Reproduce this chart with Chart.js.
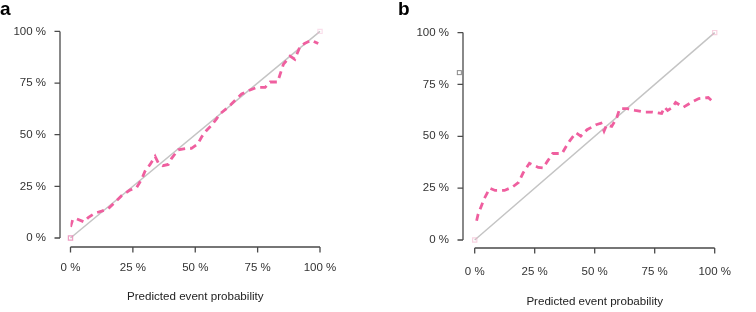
<!DOCTYPE html>
<html><head><meta charset="utf-8">
<script src="https://cdn.jsdelivr.net/npm/chart.js@4"></script>
<style>
html,body{margin:0;padding:0;background:#fff;}
#wrap{position:relative;width:756px;height:312px;overflow:hidden;background:#fff;}
.panel{position:absolute;top:0;width:378px;height:312px;}
.lbl{position:absolute;font-family:"Liberation Sans",Arial,sans-serif;font-weight:bold;font-size:19px;line-height:19px;color:#000;}
</style></head><body>
<div id="wrap">
<div class="panel" style="left:0"><canvas id="ca" width="378" height="312"></canvas></div>
<div class="panel" style="left:378px"><canvas id="cb" width="378" height="312"></canvas></div>
<div class="lbl" style="left:0;top:-1px">a</div>
<div class="lbl" style="left:398px;top:-1px">b</div>
</div>
<script>
// ---- data ----
const tickValues = [0, 25, 50, 75, 100];
const tickLabels = ['0 %', '25 %', '50 %', '75 %', '100 %'];
const axisTitle = 'Predicted event probability';
const diagonalX = [0, 100];
const diagonalY = [0, 100];

const aPredicted = [0, 0.9, 2.2, 5.4, 7.1, 9.8, 12.5, 15, 17.8, 20.5, 23.8, 26.5, 28.5, 29.9, 31.9, 33.9, 35.2, 37, 39.2, 40.6, 43.2, 47.2, 48.5, 51, 52.6, 54.6, 56.6, 58.6, 59.9, 63.2, 65.2, 68.6, 71.3, 74.6, 78, 80, 83, 85.3, 88, 89.9, 92, 94, 96.6, 99.3];
const aObserved  = [5.4, 8.9, 9.4, 7.8, 9.9, 12, 13, 14, 17.3, 20.5, 23.2, 24.4, 28.4, 32.4, 35.6, 39.5, 36.3, 35, 35.6, 38.7, 42.7, 43.5, 43.4, 45.5, 49, 52.2, 54.6, 57.8, 60.1, 63.3, 65.7, 69.7, 71.3, 72.9, 72.9, 75.5, 75.5, 84, 88, 86.5, 92.7, 94.3, 95.7, 94.1];

const bPredicted = [0.8, 1.4, 2.7, 4, 6.3, 8.5, 12.4, 15.7, 18.3, 20.2, 22.8, 24.1, 26.5, 28.6, 30.2, 32.5, 36.4, 38.3, 39.6, 42.2, 44.2, 46.8, 49.4, 50.6, 52.6, 53.9, 55, 57.1, 59.1, 60.4, 63.6, 66.8, 70.7, 74, 77.9, 79.1, 80.4, 82.4, 83.7, 86.9, 90.2, 93.4, 97.3, 99.2];
const bObserved  = [9.3, 12.3, 16.2, 20, 25, 23.9, 23.9, 25.5, 27.8, 32.4, 37, 36.3, 35, 34.7, 37.8, 41.7, 41.7, 45.5, 47.8, 51.7, 50.1, 53.2, 54.8, 55.6, 56.3, 52.5, 55.5, 54.8, 58.6, 63.3, 63.3, 62.5, 61.7, 61.7, 61, 64, 62.5, 64, 66.3, 64, 66.3, 68.2, 68.7, 66.7];

const bStrayX = [-6.4];
const bStrayY = [80.7];

// ---- helpers ----
const toPts = (xs, ys) => xs.map((x, i) => ({x, y: ys[i]}));
const FONT = '"Liberation Sans", Arial, sans-serif';
const PINK = '#EF5F9F';

const rAxes = {
  id: 'rAxes',
  afterDraw(chart, args, o) {
    const {ctx} = chart;
    const x = chart.scales.x, y = chart.scales.y;
    const ca = chart.chartArea;
    const ax = ca.left - o.gapY;
    const ay = ca.bottom + o.gapX;
    ctx.save();
    ctx.strokeStyle = '#4a4a4a';
    ctx.lineWidth = 1.3;
    ctx.beginPath();
    ctx.moveTo(ax, y.getPixelForValue(tickValues[0]));
    ctx.lineTo(ax, y.getPixelForValue(tickValues[tickValues.length - 1]));
    tickValues.forEach(v => { const p = y.getPixelForValue(v); ctx.moveTo(ax, p); ctx.lineTo(ax - o.len, p); });
    ctx.moveTo(x.getPixelForValue(tickValues[0]), ay);
    ctx.lineTo(x.getPixelForValue(tickValues[tickValues.length - 1]), ay);
    tickValues.forEach(v => { const p = x.getPixelForValue(v); ctx.moveTo(p, ay); ctx.lineTo(p, ay + o.len); });
    ctx.stroke();
    if (o.strayX) {
      ctx.strokeStyle = '#8a8a8a';
      ctx.lineWidth = 1;
      o.strayX.forEach((sx, i) => {
        const px = x.getPixelForValue(sx), py = y.getPixelForValue(o.strayY[i]);
        ctx.strokeRect(px - 2, py - 2, 4, 4);
      });
    }
    ctx.restore();
  }
};

function makeChart(id, px, py, cfg) {
  const datasets = [
    {data: toPts(px, py), borderColor: PINK, borderWidth: 2.8, borderDash: [7, 5], pointRadius: 0, fill: false, tension: 0, order: 0, borderCapStyle: 'butt'},
    {data: toPts(diagonalX, diagonalY), borderColor: '#c4c4c4', borderWidth: 1.5, pointRadius: 3, pointStyle: 'rect', pointBorderColor: cfg.endColors, pointBackgroundColor: 'rgba(0,0,0,0)', pointBorderWidth: 1.2, fill: false, order: 1, clip: false}
  ];
  return new Chart(document.getElementById(id), {
    type: 'scatter',
    data: {datasets: datasets.map(d => Object.assign({showLine: true}, d))},
    options: {
      responsive: false, animation: false, devicePixelRatio: 1,
      layout: {padding: {left: 0, top: cfg.top, right: cfg.right, bottom: 0}},
      plugins: {legend: {display: false}, tooltip: {enabled: false}, rAxes: cfg.axes},
      scales: {
        x: {
          type: 'linear', min: 0, max: 100,
          afterFit: s => { s.height = cfg.xh; },
          grid: {display: false, drawTicks: false}, border: {display: false},
          ticks: {stepSize: 25, padding: cfg.xpad, color: '#333', font: {family: FONT, size: 11.5},
                  callback: v => tickLabels[tickValues.indexOf(v)], maxRotation: 0, autoSkip: false},
          title: {display: true, text: axisTitle, color: '#222', font: {family: FONT, size: 11.6}, padding: {top: 0, bottom: cfg.tpad}}
        },
        y: {
          type: 'linear', min: 0, max: 100,
          afterFit: s => { s.width = cfg.yw; },
          grid: {display: false, drawTicks: false}, border: {display: false},
          ticks: {stepSize: 25, padding: cfg.ypad, color: '#333', font: {family: FONT, size: 11.5},
                  callback: v => tickLabels[tickValues.indexOf(v)], autoSkip: false}
        }
      }
    },
    plugins: [rAxes]
  });
}

makeChart('ca', aPredicted, aObserved,
  {top: 28, right: 58, xh: 74, yw: 70.5, xpad: 23, ypad: 24.5, tpad: 8.1,
   endColors: ['rgba(235,140,185,0.85)', 'rgba(245,185,210,0.45)'],
   axes: {gapY: 10.5, gapX: 9, len: 5.5}});

makeChart('cb', bPredicted, bObserved,
  {top: 24, right: 24, xh: 72, yw: 96.7, xpad: 25, ypad: 25.7, tpad: 3.1,
   endColors: ['rgba(240,175,200,0.55)', 'rgba(240,175,200,0.55)'],
   axes: {gapY: 11.7, gapX: 8, len: 5.5, strayX: bStrayX, strayY: bStrayY}});
</script>
</body></html>
